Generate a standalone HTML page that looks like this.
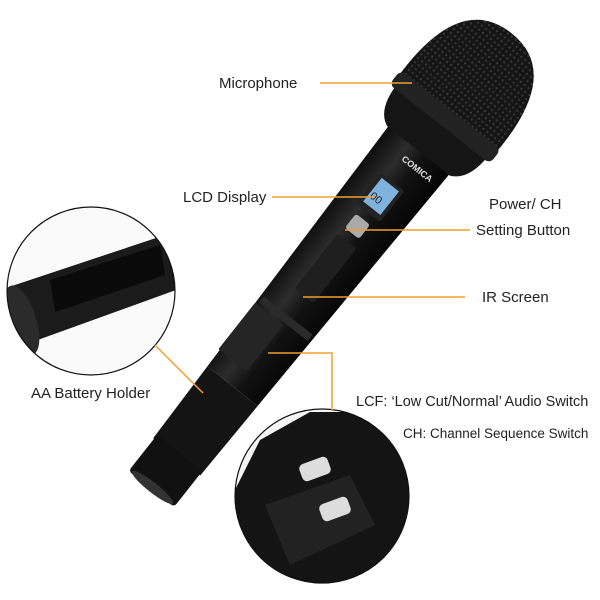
<!DOCTYPE html>
<html><head><style>
html,body{margin:0;padding:0;background:#fff;width:600px;height:600px;overflow:hidden}
svg{display:block}
text{font-family:"Liberation Sans",sans-serif;font-size:15px;fill:#222}
</style></head><body>
<svg width="600" height="600" viewBox="0 0 600 600" xmlns="http://www.w3.org/2000/svg">
<defs>
<pattern id="mesh" width="5" height="5" patternUnits="userSpaceOnUse">
<rect width="5" height="5" fill="#151515"/>
<circle cx="2.5" cy="2.5" r="1.1" fill="#3a3a3a"/>
</pattern>
<clipPath id="lc"><circle cx="91" cy="291" r="84"/></clipPath>
<clipPath id="bc"><circle cx="322" cy="496" r="87"/></clipPath>
<linearGradient id="bg" x1="0" x2="1" y1="0" y2="0">
<stop offset="0" stop-color="#0c0c0c"/><stop offset="0.35" stop-color="#2c2c2c"/><stop offset="0.6" stop-color="#111"/><stop offset="1" stop-color="#050505"/>
</linearGradient>
</defs>

<g transform="translate(468,88) rotate(38.3)">
  <path d="M-39,70 L39,70 L32,380 L-32,380 Z" fill="url(#bg)"/>
  <path d="M-32,380 L32,380 L30,470 L-30,470 Z" fill="#141414"/>
  <rect x="-31" y="290" width="62" height="8" fill="#2a2a2a"/>
  <rect x="-29" y="465" width="58" height="46" rx="4" fill="#111"/>
  <ellipse cx="0" cy="509" rx="26" ry="5" fill="#333"/>
  <path d="M-58,40 Q-58,72 -40,80 L40,80 Q58,72 58,40 Z" fill="#151515"/>
  <path d="M-62,35 Q-66,-70 0,-70 Q66,-70 62,35 Z" fill="url(#mesh)"/>
  <rect x="-64" y="28" width="128" height="18" rx="6" fill="#222"/>
  <rect x="-16" y="120" width="30" height="40" rx="3" fill="#222"/>
  <rect x="-12" y="124" width="22" height="30" fill="#7fb2dd"/>
  <text x="-10" y="147" style="font-size:11px;fill:#223">00</text>
  <rect x="-10" y="168" width="18" height="18" rx="3" fill="#aaa"/>
  <rect x="-12" y="195" width="24" height="70" rx="3" fill="#1f1f1f"/>
  <rect x="-34" y="300" width="36" height="60" rx="2" fill="#252525"/>
  <text x="-8" y="98" style="font-size:9px;fill:#ddd;font-weight:bold">COMICA</text>
</g>

<g clip-path="url(#lc)">
  <rect x="0" y="200" width="180" height="180" fill="#fafafa"/>
  <path d="M0,290 L180,230 L190,285 L10,350 Z" fill="#1b1b1b"/>
  <path d="M50,280 L160,245 L165,275 L55,312 Z" fill="#0a0a0a"/>
  <ellipse cx="22" cy="320" rx="14" ry="36" transform="rotate(-18 22 320)" fill="#2b2b2b"/>
</g>
<circle cx="91" cy="291" r="84" fill="none" stroke="#111" stroke-width="1.2"/>

<g clip-path="url(#bc)">
  <rect x="230" y="405" width="190" height="185" fill="#f4f4f4"/>
  <path d="M230,600 L230,500 L260,440 L310,412 L420,412 L420,600 Z" fill="#141414"/>
  <path d="M265,505 L350,475 L375,525 L290,565 Z" fill="#222"/>
  <rect x="300" y="460" width="30" height="18" rx="5" fill="#ddd" transform="rotate(-20 315 469)"/>
  <rect x="320" y="500" width="30" height="18" rx="5" fill="#ddd" transform="rotate(-20 335 509)"/>
</g>
<circle cx="322" cy="496" r="87" fill="none" stroke="#111" stroke-width="1.2"/>

<g stroke="#f0a030" stroke-width="1.5" fill="none">
  <line x1="320" y1="83" x2="412" y2="83"/>
  <line x1="272" y1="197" x2="375" y2="197"/>
  <line x1="345" y1="230" x2="470" y2="230"/>
  <line x1="303" y1="297" x2="465" y2="297"/>
  <line x1="155" y1="345" x2="203" y2="393"/>
  <polyline points="268,353 332,353 332,410"/>
</g>

<text x="219" y="88">Microphone</text>
<text x="183" y="202">LCD Display</text>
<text x="489" y="209">Power/ CH</text>
<text x="476" y="235">Setting Button</text>
<text x="482" y="302">IR Screen</text>
<text x="31" y="398">AA Battery Holder</text>
<text x="356" y="406" style="font-size:14.5px">LCF:  ‘Low Cut/Normal’ Audio Switch</text>
<text x="403" y="438" style="font-size:13.5px">CH: Channel Sequence Switch</text>
</svg>
</body></html>
